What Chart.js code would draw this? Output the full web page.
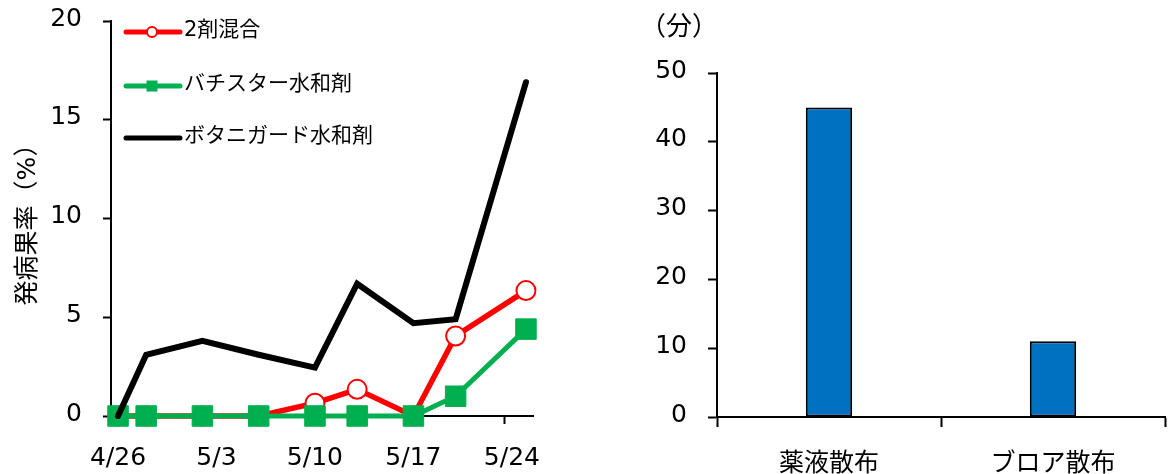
<!DOCTYPE html>
<html lang="ja">
<head>
<meta charset="utf-8">
<title>発病果率と散布時間</title>
<script src="https://cdn.jsdelivr.net/npm/chart.js"></script>
<style>
  html, body { margin: 0; padding: 0; background: #fff; }
  #wrap { position: relative; width: 1170px; height: 474px; }
  #chartHatsubyo { position: absolute; left: 0; top: 0; }
  #chartSanpu { position: absolute; left: 600px; top: 0; }
</style>
</head>
<body>
<div id="wrap">
  <canvas id="chartHatsubyo" width="560" height="474"></canvas>
  <canvas id="chartSanpu" width="570" height="474"></canvas>
</div>
<script>
// ================================
//   データ
// ================================
const year = 2020;
const surveyDates = ["4/26", "4/28", "5/2", "5/6", "5/10", "5/13", "5/17", "5/20", "5/25"];
const tickDates = ["4/26", "5/3", "5/10", "5/17", "5/24"];

const seriesNames = ["2剤混合", "バチスター水和剤", "ボタニガード水和剤"];
const mix2 = [0, 0, 0, 0, 0.65, 1.35, 0, 4.05, 6.35];
const bachistar = [0, 0, 0, 0, 0, 0, 0, 1.0, 4.4];
const botanigard = [0, 3.1, 3.8, 3.1, 2.45, 6.7, 4.7, 4.9, 16.9];

const sprayLabels = ["薬液散布", "ブロア散布"];
const sprayMinutes = [45, 11];

const yTitle = "発病果率（%）";
const unitLabel = "（分）";

// ================================
//   共通設定
// ================================
const FONT = '"DejaVu Sans", "Noto Sans CJK JP", sans-serif';
Chart.defaults.font.family = FONT;
Chart.defaults.color = "#000";

// 4/26 からの日数
function dayOf(str) {
  const [m, d] = str.split("/").map(Number);
  const [m0, d0] = surveyDates[0].split("/").map(Number);
  return (Date.UTC(year, m - 1, d) - Date.UTC(year, m0 - 1, d0)) / 86400000;
}

function toPoints(values) {
  return surveyDates.map((d, i) => ({ x: dayOf(d), y: values[i] }));
}

// グラフ内の凡例（Excel風）
const innerLegend = {
  id: "innerLegend",
  afterDraw(chart) {
    const { ctx, chartArea } = chart;
    const rowsY = [11, 65, 117];
    ctx.save();
    chart.data.datasets.forEach((ds, i) => {
      const y = chartArea.top + rowsY[i];
      const x0 = chartArea.left + 15;
      const x1 = chartArea.left + 69;
      const xm = chartArea.left + 41;

      ctx.strokeStyle = ds.borderColor;
      ctx.lineWidth = 5;
      ctx.lineCap = "round";
      ctx.beginPath();
      ctx.moveTo(x0, y);
      ctx.lineTo(x1, y);
      ctx.stroke();

      if (ds.pointStyle === "circle") {
        ctx.fillStyle = "#fff";
        ctx.lineWidth = 2;
        ctx.beginPath();
        ctx.arc(xm, y, 5, 0, Math.PI * 2);
        ctx.fill();
        ctx.stroke();
      } else if (ds.pointStyle === "rect") {
        ctx.fillStyle = ds.pointBackgroundColor;
        ctx.fillRect(xm - 5.5, y - 5.5, 11, 11);
      }

      ctx.fillStyle = "#000";
      ctx.font = "21px " + FONT;
      ctx.textAlign = "left";
      ctx.textBaseline = "middle";
      ctx.fillText(ds.label, chartArea.left + 73, y - 1);
    });
    ctx.restore();
  }
};

// 単位ラベル（分）
const unitTitle = {
  id: "unitTitle",
  afterDraw(chart) {
    const { ctx, chartArea } = chart;
    ctx.save();
    ctx.fillStyle = "#000";
    ctx.font = "26px " + FONT;
    ctx.textAlign = "center";
    ctx.textBaseline = "middle";
    ctx.fillText(unitLabel, chartArea.left - 38, 28);
    ctx.restore();
  }
};

// ================================
//   左：発病果率の推移
// ================================
new Chart(document.getElementById("chartHatsubyo"), {
  type: "line",
  data: {
    datasets: [
      {
        label: seriesNames[0], data: toPoints(mix2),
        borderColor: "#FF0000", borderWidth: 5.5,
        pointStyle: "circle", pointRadius: 9.5, pointBorderWidth: 2,
        pointBackgroundColor: "#fff", pointBorderColor: "#FF0000",
        order: 3, clip: false
      },
      {
        label: seriesNames[1], data: toPoints(bachistar),
        borderColor: "#00B050", borderWidth: 5,
        pointStyle: "rect", pointRadius: 14.5, pointBorderWidth: 1,
        pointBackgroundColor: "#00B050", pointBorderColor: "#00B050",
        order: 2, clip: false
      },
      {
        label: seriesNames[2], data: toPoints(botanigard),
        borderColor: "#000", borderWidth: 6, borderCapStyle: "round",
        pointRadius: 0,
        order: 1, clip: false
      }
    ]
  },
  options: {
    responsive: false,
    animation: false,
    layout: { padding: { top: 21, right: 27, bottom: 0, left: 0 } },
    plugins: { legend: { display: false }, tooltip: { enabled: false } },
    scales: {
      x: {
        type: "linear", min: -0.5, max: 29.5,
        afterBuildTicks: (s) => { s.ticks = tickDates.map(d => ({ value: dayOf(d) - 0.5 })); },
        afterFit: (s) => { s.height = 58; s.paddingLeft = 0; s.paddingRight = 0; },
        grid: { drawOnChartArea: false, tickLength: 8, color: "#000", tickColor: "#000", tickWidth: 2 },
        border: { color: "#000", width: 2 },
        ticks: {
          font: { size: 25 }, color: "#000", padding: 19, labelOffset: 7,
          maxRotation: 0, autoSkip: false,
          callback: (v, i) => tickDates[i]
        }
      },
      y: {
        min: 0, max: 20,
        afterFit: (s) => { s.width = 111; s.paddingTop = 0; s.paddingBottom = 0; },
        grid: { drawOnChartArea: false, tickLength: 8, color: "#000", tickColor: "#000", tickWidth: 2 },
        border: { color: "#000", width: 2 },
        ticks: { stepSize: 5, font: { size: 25 }, color: "#000", padding: 21, labelOffset: -2 },
        title: { display: true, text: yTitle, font: { size: 25 }, color: "#000", padding: { top: 13, bottom: 0 } }
      }
    }
  },
  plugins: [innerLegend]
});

// ================================
//   右：散布時間
// ================================
new Chart(document.getElementById("chartSanpu"), {
  type: "bar",
  data: {
    labels: sprayLabels,
    datasets: [{
      data: sprayMinutes,
      backgroundColor: "#0070C0",
      borderColor: "#000",
      borderWidth: 2,
      borderSkipped: false,
      categoryPercentage: 1,
      barPercentage: 0.207
    }]
  },
  options: {
    responsive: false,
    animation: false,
    layout: { padding: { top: 73, right: 5, bottom: 0, left: 0 } },
    plugins: { legend: { display: false }, tooltip: { enabled: false } },
    scales: {
      x: {
        afterFit: (s) => { s.height = 57; s.paddingLeft = 0; s.paddingRight = 0; },
        grid: { offset: true, drawOnChartArea: false, tickLength: 10, color: "#000", tickColor: "#000", tickWidth: 2 },
        border: { color: "#000", width: 2 },
        ticks: { font: { size: 25 }, color: "#000", padding: 22, maxRotation: 0 }
      },
      y: {
        min: 0, max: 50,
        afterFit: (s) => { s.width = 117; s.paddingTop = 0; s.paddingBottom = 0; },
        grid: { drawOnChartArea: false, tickLength: 9, color: "#000", tickColor: "#000", tickWidth: 2 },
        border: { color: "#000", width: 2 },
        ticks: { stepSize: 10, font: { size: 25 }, color: "#000", padding: 21, labelOffset: -2 }
      }
    }
  },
  plugins: [unitTitle]
});
</script>
</body>
</html>
